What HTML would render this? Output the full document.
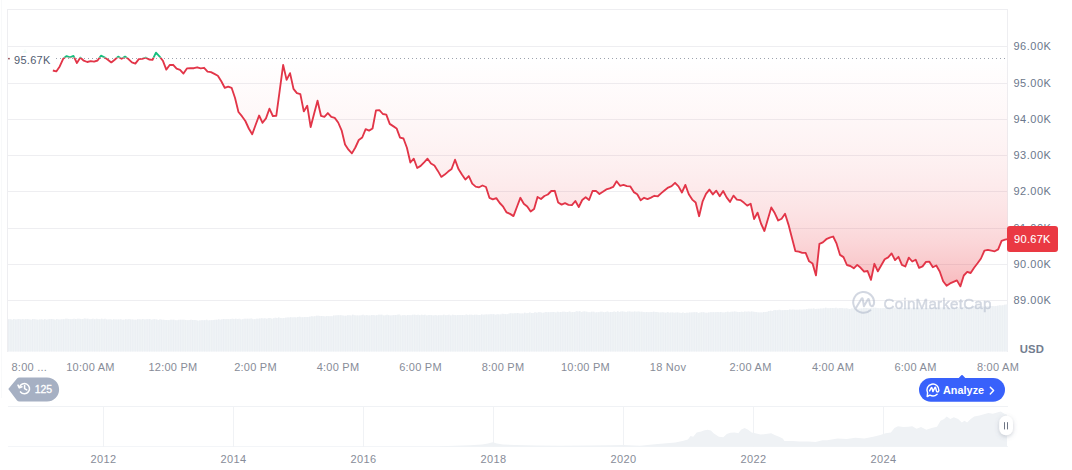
<!DOCTYPE html>
<html><head><meta charset="utf-8"><title>Chart</title>
<style>
html,body{margin:0;padding:0;background:#fff;}
body{width:1072px;height:470px;position:relative;overflow:hidden;font-family:"Liberation Sans",sans-serif;}
svg{position:absolute;left:0;top:0;}
.yl{position:absolute;left:1013.5px;width:60px;height:15px;line-height:15px;font-size:11px;letter-spacing:0.5px;color:#6b778c;}
.tl{position:absolute;top:360.1px;width:80px;height:15px;line-height:15px;text-align:center;font-size:11px;letter-spacing:0.25px;color:#878c98;white-space:nowrap;}
.yr{position:absolute;top:451.5px;width:60px;height:15px;line-height:15px;text-align:center;font-size:11px;letter-spacing:0.35px;color:#878c98;}
.open{position:absolute;left:11px;top:53.3px;width:41px;height:15px;line-height:15px;background:#fff;font-size:11px;letter-spacing:0.3px;color:#515c70;padding-left:3px;}
.cur{position:absolute;left:1007px;top:226.3px;width:50.8px;height:25.4px;line-height:27.8px;border-radius:3px;background:#EA3943;color:#fff;font-size:11px;letter-spacing:0.3px;text-align:center;font-weight:normal;-webkit-text-stroke:0.1px #fff;}
.usd{position:absolute;left:1019.8px;top:342.5px;height:12px;line-height:12px;font-size:11.3px;font-weight:bold;letter-spacing:0.15px;color:#737d8f;}
.b125{position:absolute;left:34.7px;top:382px;height:15px;line-height:15px;font-size:10.5px;font-weight:normal;-webkit-text-stroke:0.3px #fff;color:#fff;letter-spacing:0px;}
.an{position:absolute;left:943px;top:382.8px;height:15px;line-height:15px;font-size:10.8px;font-weight:bold;color:#fff;letter-spacing:0.05px;}
.wm{position:absolute;left:883.5px;top:293.5px;height:20px;line-height:20px;font-size:15.2px;font-weight:normal;-webkit-text-stroke:0.45px #a6b0c3;color:#a6b0c3;opacity:0.5;letter-spacing:0.2px;}
</style></head><body>
<svg width="1072" height="470" viewBox="0 0 1072 470">
<defs>
<linearGradient id="rg" x1="0" y1="58.4" x2="0" y2="290" gradientUnits="userSpaceOnUse">
<stop offset="0.00" stop-color="#EA3943" stop-opacity="0.0000"/><stop offset="0.05" stop-color="#EA3943" stop-opacity="0.0075"/><stop offset="0.10" stop-color="#EA3943" stop-opacity="0.0150"/><stop offset="0.15" stop-color="#EA3943" stop-opacity="0.0226"/><stop offset="0.20" stop-color="#EA3943" stop-opacity="0.0304"/><stop offset="0.25" stop-color="#EA3943" stop-opacity="0.0384"/><stop offset="0.30" stop-color="#EA3943" stop-opacity="0.0468"/><stop offset="0.35" stop-color="#EA3943" stop-opacity="0.0558"/><stop offset="0.40" stop-color="#EA3943" stop-opacity="0.0656"/><stop offset="0.45" stop-color="#EA3943" stop-opacity="0.0765"/><stop offset="0.50" stop-color="#EA3943" stop-opacity="0.0887"/><stop offset="0.55" stop-color="#EA3943" stop-opacity="0.1026"/><stop offset="0.60" stop-color="#EA3943" stop-opacity="0.1185"/><stop offset="0.65" stop-color="#EA3943" stop-opacity="0.1368"/><stop offset="0.70" stop-color="#EA3943" stop-opacity="0.1578"/><stop offset="0.75" stop-color="#EA3943" stop-opacity="0.1821"/><stop offset="0.80" stop-color="#EA3943" stop-opacity="0.2101"/><stop offset="0.85" stop-color="#EA3943" stop-opacity="0.2423"/><stop offset="0.90" stop-color="#EA3943" stop-opacity="0.2793"/><stop offset="0.95" stop-color="#EA3943" stop-opacity="0.3217"/><stop offset="1.00" stop-color="#EA3943" stop-opacity="0.3700"/>
</linearGradient>
<linearGradient id="gg" x1="0" y1="58.4" x2="0" y2="40" gradientUnits="userSpaceOnUse">
<stop offset="0" stop-color="#16C784" stop-opacity="0"/>
<stop offset="1" stop-color="#16C784" stop-opacity="0.25"/>
</linearGradient>
<clipPath id="below"><rect x="0" y="58.4" width="1072" height="300"/></clipPath>
<clipPath id="above"><rect x="0" y="0" width="1072" height="58.4"/></clipPath>
<clipPath id="lbelow"><rect x="0" y="57.5" width="1072" height="300"/></clipPath>
<clipPath id="labove"><rect x="0" y="0" width="1072" height="57.5"/></clipPath>
<pattern id="vstripe" x="8" y="0" width="1.72" height="10" patternUnits="userSpaceOnUse"><rect x="0" y="0" width="1.0" height="10" fill="#ebeff3"/></pattern>
<filter id="sh" x="-50%" y="-50%" width="200%" height="200%"><feDropShadow dx="0" dy="1.5" stdDeviation="2.2" flood-color="#58667e" flood-opacity="0.3"/></filter>
</defs>
<!-- frame + grid -->
<line x1="1.5" x2="1.5" y1="0" y2="398" stroke="#f8f9fa" stroke-width="1" shape-rendering="crispEdges"/>
<g stroke="#eeeef1" stroke-width="1" shape-rendering="crispEdges">
<line x1="8" x2="1007.5" y1="9.5" y2="9.5"/>
<line x1="7.5" x2="7.5" y1="9" y2="352"/>
<line x1="1007.5" x2="1007.5" y1="9" y2="352"/>
<line x1="8" x2="1007.5" y1="46.5" y2="46.5"/><line x1="8" x2="1007.5" y1="83.5" y2="83.5"/><line x1="8" x2="1007.5" y1="119.5" y2="119.5"/><line x1="8" x2="1007.5" y1="155.5" y2="155.5"/><line x1="8" x2="1007.5" y1="191.5" y2="191.5"/><line x1="8" x2="1007.5" y1="228.5" y2="228.5"/><line x1="8" x2="1007.5" y1="264.5" y2="264.5"/><line x1="8" x2="1007.5" y1="300.5" y2="300.5"/>
<line x1="8" x2="1007.5" y1="406.5" y2="406.5" stroke="#f0f2f5"/>
<line x1="8" x2="1007.5" y1="446.5" y2="446.5" stroke="#f3f5f8"/>
<line x1="103.5" x2="103.5" y1="406.5" y2="446.5" stroke="#f0f2f5"/><line x1="233.5" x2="233.5" y1="406.5" y2="446.5" stroke="#f0f2f5"/><line x1="363.5" x2="363.5" y1="406.5" y2="446.5" stroke="#f0f2f5"/><line x1="493.5" x2="493.5" y1="406.5" y2="446.5" stroke="#f0f2f5"/><line x1="623.5" x2="623.5" y1="406.5" y2="446.5" stroke="#f0f2f5"/><line x1="753.5" x2="753.5" y1="406.5" y2="446.5" stroke="#f0f2f5"/><line x1="883.5" x2="883.5" y1="406.5" y2="446.5" stroke="#f0f2f5"/>
</g>
<!-- volume -->
<path d="M8.0,319.34 L9.72,319.34 L9.72,319.18 L11.44,319.18 L11.44,319.63 L13.16,319.63 L13.16,319.1 L14.88,319.1 L14.88,319.52 L16.6,319.52 L16.6,319.36 L18.32,319.36 L18.32,319.08 L20.04,319.08 L20.04,319.48 L21.76,319.48 L21.76,319.06 L23.48,319.06 L23.48,319.41 L25.2,319.41 L25.2,319.08 L26.92,319.08 L26.92,319.09 L28.64,319.09 L28.64,319.39 L30.36,319.39 L30.36,319.75 L32.08,319.75 L32.08,319.11 L33.8,319.11 L33.8,319.2 L35.52,319.2 L35.52,319.56 L37.24,319.56 L37.24,319.85 L38.96,319.85 L38.96,319.51 L40.68,319.51 L40.68,319.34 L42.4,319.34 L42.4,319.86 L44.12,319.86 L44.12,319.02 L45.84,319.02 L45.84,319.75 L47.56,319.75 L47.56,319.23 L49.28,319.23 L49.28,319.1 L51.0,319.1 L51.0,319.07 L52.72,319.07 L52.72,319.24 L54.44,319.24 L54.44,319.69 L56.16,319.69 L56.16,319.12 L57.88,319.12 L57.88,319.48 L59.6,319.48 L59.6,319.51 L61.32,319.51 L61.32,319.22 L63.04,319.22 L63.04,319.33 L64.76,319.33 L64.76,318.85 L66.48,318.85 L66.48,318.8 L68.2,318.8 L68.2,318.88 L69.92,318.88 L69.92,319.26 L71.64,319.26 L71.64,318.98 L73.36,318.98 L73.36,318.83 L75.08,318.83 L75.08,319.03 L76.8,319.03 L76.8,318.86 L78.52,318.86 L78.52,318.68 L80.24,318.68 L80.24,319.07 L81.96,319.07 L81.96,318.94 L83.68,318.94 L83.68,318.48 L85.4,318.48 L85.4,318.8 L87.12,318.8 L87.12,318.79 L88.84,318.79 L88.84,319.15 L90.56,319.15 L90.56,319.06 L92.28,319.06 L92.28,318.7 L94.0,318.7 L94.0,319.37 L95.72,319.37 L95.72,318.63 L97.44,318.63 L97.44,318.95 L99.16,318.95 L99.16,319.29 L100.88,319.29 L100.88,318.79 L102.6,318.79 L102.6,319.13 L104.32,319.13 L104.32,318.77 L106.04,318.77 L106.04,319.38 L107.76,319.38 L107.76,319.5 L109.48,319.5 L109.48,319.37 L111.2,319.37 L111.2,319.65 L112.92,319.65 L112.92,319.15 L114.64,319.15 L114.64,319.5 L116.36,319.5 L116.36,319.42 L118.08,319.42 L118.08,319.42 L119.8,319.42 L119.8,319.31 L121.52,319.31 L121.52,319.67 L123.24,319.67 L123.24,319.77 L124.96,319.77 L124.96,319.36 L126.68,319.36 L126.68,319.54 L128.4,319.54 L128.4,319.0 L130.12,319.0 L130.12,319.59 L131.84,319.59 L131.84,319.55 L133.56,319.55 L133.56,319.87 L135.28,319.87 L135.28,319.72 L137.0,319.72 L137.0,319.25 L138.72,319.25 L138.72,319.35 L140.44,319.35 L140.44,319.61 L142.16,319.61 L142.16,319.04 L143.88,319.04 L143.88,319.44 L145.6,319.44 L145.6,319.18 L147.32,319.18 L147.32,319.15 L149.04,319.15 L149.04,319.1 L150.76,319.1 L150.76,319.77 L152.48,319.77 L152.48,319.22 L154.2,319.22 L154.2,319.35 L155.92,319.35 L155.92,319.51 L157.64,319.51 L157.64,319.97 L159.36,319.97 L159.36,319.29 L161.08,319.29 L161.08,319.65 L162.8,319.65 L162.8,319.76 L164.52,319.76 L164.52,320.09 L166.24,320.09 L166.24,320.06 L167.96,320.06 L167.96,320.13 L169.68,320.13 L169.68,319.63 L171.4,319.63 L171.4,319.78 L173.12,319.78 L173.12,319.76 L174.84,319.76 L174.84,320.26 L176.56,320.26 L176.56,320.35 L178.28,320.35 L178.28,319.65 L180.0,319.65 L180.0,319.7 L181.72,319.7 L181.72,319.78 L183.44,319.78 L183.44,319.81 L185.16,319.81 L185.16,320.06 L186.88,320.06 L186.88,320.18 L188.6,320.18 L188.6,319.92 L190.32,319.92 L190.32,319.71 L192.04,319.71 L192.04,320.11 L193.76,320.11 L193.76,320.1 L195.48,320.1 L195.48,320.3 L197.2,320.3 L197.2,320.68 L198.92,320.68 L198.92,320.47 L200.64,320.47 L200.64,320.26 L202.36,320.26 L202.36,320.3 L204.08,320.3 L204.08,320.29 L205.8,320.29 L205.8,319.68 L207.52,319.68 L207.52,320.38 L209.24,320.38 L209.24,320.22 L210.96,320.22 L210.96,320.24 L212.68,320.24 L212.68,320.12 L214.4,320.12 L214.4,319.69 L216.12,319.69 L216.12,319.64 L217.84,319.64 L217.84,319.32 L219.56,319.32 L219.56,319.74 L221.28,319.74 L221.28,319.17 L223.0,319.17 L223.0,319.12 L224.72,319.12 L224.72,319.19 L226.44,319.19 L226.44,319.09 L228.16,319.09 L228.16,319.19 L229.88,319.19 L229.88,318.88 L231.6,318.88 L231.6,318.81 L233.32,318.81 L233.32,318.92 L235.04,318.92 L235.04,318.84 L236.76,318.84 L236.76,319.05 L238.48,319.05 L238.48,318.72 L240.2,318.72 L240.2,319.45 L241.92,319.45 L241.92,319.19 L243.64,319.19 L243.64,318.74 L245.36,318.74 L245.36,318.81 L247.08,318.81 L247.08,318.86 L248.8,318.86 L248.8,318.85 L250.52,318.85 L250.52,318.6 L252.24,318.6 L252.24,319.23 L253.96,319.23 L253.96,319.33 L255.68,319.33 L255.68,318.83 L257.4,318.83 L257.4,318.81 L259.12,318.81 L259.12,318.43 L260.84,318.43 L260.84,318.37 L262.56,318.37 L262.56,318.51 L264.28,318.51 L264.28,318.37 L266.0,318.37 L266.0,318.8 L267.72,318.8 L267.72,318.12 L269.44,318.12 L269.44,317.92 L271.16,317.92 L271.16,318.69 L272.88,318.69 L272.88,318.23 L274.6,318.23 L274.6,317.81 L276.32,317.81 L276.32,318.09 L278.04,318.09 L278.04,317.56 L279.76,317.56 L279.76,317.93 L281.48,317.93 L281.48,318.26 L283.2,318.26 L283.2,318.08 L284.92,318.08 L284.92,317.86 L286.64,317.86 L286.64,317.39 L288.36,317.39 L288.36,317.41 L290.08,317.41 L290.08,317.15 L291.8,317.15 L291.8,317.61 L293.52,317.61 L293.52,317.31 L295.24,317.31 L295.24,317.45 L296.96,317.45 L296.96,316.96 L298.68,316.96 L298.68,316.77 L300.4,316.77 L300.4,317.22 L302.12,317.22 L302.12,317.29 L303.84,317.29 L303.84,317.08 L305.56,317.08 L305.56,316.95 L307.28,316.95 L307.28,316.88 L309.0,316.88 L309.0,316.72 L310.72,316.72 L310.72,316.2 L312.44,316.2 L312.44,316.41 L314.16,316.41 L314.16,316.21 L315.88,316.21 L315.88,315.86 L317.6,315.86 L317.6,315.8 L319.32,315.8 L319.32,315.97 L321.04,315.97 L321.04,315.9 L322.76,315.9 L322.76,316.23 L324.48,316.23 L324.48,316.41 L326.2,316.41 L326.2,315.9 L327.92,315.9 L327.92,316.28 L329.64,316.28 L329.64,316.27 L331.36,316.27 L331.36,316.19 L333.08,316.19 L333.08,315.6 L334.8,315.6 L334.8,315.41 L336.52,315.41 L336.52,315.36 L338.24,315.36 L338.24,315.28 L339.96,315.28 L339.96,315.23 L341.68,315.23 L341.68,315.55 L343.4,315.55 L343.4,315.75 L345.12,315.75 L345.12,315.64 L346.84,315.64 L346.84,315.26 L348.56,315.26 L348.56,315.36 L350.28,315.36 L350.28,315.47 L352.0,315.47 L352.0,314.81 L353.72,314.81 L353.72,315.33 L355.44,315.33 L355.44,315.54 L357.16,315.54 L357.16,315.42 L358.88,315.42 L358.88,315.39 L360.6,315.39 L360.6,315.13 L362.32,315.13 L362.32,314.86 L364.04,314.86 L364.04,315.4 L365.76,315.4 L365.76,314.98 L367.48,314.98 L367.48,315.4 L369.2,315.4 L369.2,315.54 L370.92,315.54 L370.92,315.02 L372.64,315.02 L372.64,315.02 L374.36,315.02 L374.36,315.5 L376.08,315.5 L376.08,315.29 L377.8,315.29 L377.8,314.79 L379.52,314.79 L379.52,314.74 L381.24,314.74 L381.24,314.76 L382.96,314.76 L382.96,315.43 L384.68,315.43 L384.68,315.33 L386.4,315.33 L386.4,314.73 L388.12,314.73 L388.12,315.34 L389.84,315.34 L389.84,315.47 L391.56,315.47 L391.56,315.17 L393.28,315.17 L393.28,314.89 L395.0,314.89 L395.0,315.06 L396.72,315.06 L396.72,314.68 L398.44,314.68 L398.44,314.57 L400.16,314.57 L400.16,315.43 L401.88,315.43 L401.88,315.15 L403.6,315.15 L403.6,315.04 L405.32,315.04 L405.32,315.41 L407.04,315.41 L407.04,314.97 L408.76,314.97 L408.76,315.37 L410.48,315.37 L410.48,315.34 L412.2,315.34 L412.2,314.79 L413.92,314.79 L413.92,314.84 L415.64,314.84 L415.64,314.88 L417.36,314.88 L417.36,314.84 L419.08,314.84 L419.08,315.16 L420.8,315.16 L420.8,314.87 L422.52,314.87 L422.52,315.02 L424.24,315.02 L424.24,314.77 L425.96,314.77 L425.96,315.48 L427.68,315.48 L427.68,314.98 L429.4,314.98 L429.4,315.08 L431.12,315.08 L431.12,315.2 L432.84,315.2 L432.84,315.5 L434.56,315.5 L434.56,315.07 L436.28,315.07 L436.28,315.52 L438.0,315.52 L438.0,315.16 L439.72,315.16 L439.72,315.19 L441.44,315.19 L441.44,315.19 L443.16,315.19 L443.16,314.74 L444.88,314.74 L444.88,315.13 L446.6,315.13 L446.6,314.9 L448.32,314.9 L448.32,314.75 L450.04,314.75 L450.04,315.45 L451.76,315.45 L451.76,314.86 L453.48,314.86 L453.48,315.1 L455.2,315.1 L455.2,315.3 L456.92,315.3 L456.92,315.12 L458.64,315.12 L458.64,314.89 L460.36,314.89 L460.36,315.03 L462.08,315.03 L462.08,315.03 L463.8,315.03 L463.8,315.21 L465.52,315.21 L465.52,314.57 L467.24,314.57 L467.24,314.95 L468.96,314.95 L468.96,314.64 L470.68,314.64 L470.68,314.64 L472.4,314.64 L472.4,315.06 L474.12,315.06 L474.12,314.79 L475.84,314.79 L475.84,314.81 L477.56,314.81 L477.56,314.96 L479.28,314.96 L479.28,315.07 L481.0,315.07 L481.0,314.59 L482.72,314.59 L482.72,314.69 L484.44,314.69 L484.44,314.55 L486.16,314.55 L486.16,314.5 L487.88,314.5 L487.88,314.61 L489.6,314.61 L489.6,314.34 L491.32,314.34 L491.32,314.36 L493.04,314.36 L493.04,314.26 L494.76,314.26 L494.76,314.63 L496.48,314.63 L496.48,314.36 L498.2,314.36 L498.2,314.47 L499.92,314.47 L499.92,314.47 L501.64,314.47 L501.64,313.8 L503.36,313.8 L503.36,314.01 L505.08,314.01 L505.08,314.29 L506.8,314.29 L506.8,314.14 L508.52,314.14 L508.52,313.45 L510.24,313.45 L510.24,313.37 L511.96,313.37 L511.96,313.6 L513.68,313.6 L513.68,313.21 L515.4,313.21 L515.4,313.3 L517.12,313.3 L517.12,313.09 L518.84,313.09 L518.84,313.56 L520.56,313.56 L520.56,313.56 L522.28,313.56 L522.28,313.55 L524.0,313.55 L524.0,312.77 L525.72,312.77 L525.72,313.16 L527.44,313.16 L527.44,312.99 L529.16,312.99 L529.16,312.41 L530.88,312.41 L530.88,312.96 L532.6,312.96 L532.6,312.92 L534.32,312.92 L534.32,312.15 L536.04,312.15 L536.04,312.79 L537.76,312.79 L537.76,312.28 L539.48,312.28 L539.48,312.35 L541.2,312.35 L541.2,312.78 L542.92,312.78 L542.92,312.63 L544.64,312.63 L544.64,312.01 L546.36,312.01 L546.36,312.24 L548.08,312.24 L548.08,312.3 L549.8,312.3 L549.8,312.13 L551.52,312.13 L551.52,311.99 L553.24,311.99 L553.24,312.08 L554.96,312.08 L554.96,312.43 L556.68,312.43 L556.68,311.79 L558.4,311.79 L558.4,312.25 L560.12,312.25 L560.12,312.11 L561.84,312.11 L561.84,311.66 L563.56,311.66 L563.56,311.87 L565.28,311.87 L565.28,312.07 L567.0,312.07 L567.0,311.9 L568.72,311.9 L568.72,311.42 L570.44,311.42 L570.44,312.18 L572.16,312.18 L572.16,311.94 L573.88,311.94 L573.88,312.03 L575.6,312.03 L575.6,311.28 L577.32,311.28 L577.32,311.47 L579.04,311.47 L579.04,311.3 L580.76,311.3 L580.76,312.01 L582.48,312.01 L582.48,311.59 L584.2,311.59 L584.2,311.51 L585.92,311.51 L585.92,311.81 L587.64,311.81 L587.64,312.29 L589.36,312.29 L589.36,312.25 L591.08,312.25 L591.08,311.79 L592.8,311.79 L592.8,311.73 L594.52,311.73 L594.52,312.47 L596.24,312.47 L596.24,312.19 L597.96,312.19 L597.96,312.35 L599.68,312.35 L599.68,311.81 L601.4,311.81 L601.4,311.73 L603.12,311.73 L603.12,312.25 L604.84,312.25 L604.84,311.96 L606.56,311.96 L606.56,311.59 L608.28,311.59 L608.28,312.32 L610.0,312.32 L610.0,312.0 L611.72,312.0 L611.72,312.09 L613.44,312.09 L613.44,311.4 L615.16,311.4 L615.16,312.04 L616.88,312.04 L616.88,311.28 L618.6,311.28 L618.6,311.94 L620.32,311.94 L620.32,311.58 L622.04,311.58 L622.04,311.51 L623.76,311.51 L623.76,311.74 L625.48,311.74 L625.48,312.11 L627.2,312.11 L627.2,311.55 L628.92,311.55 L628.92,311.46 L630.64,311.46 L630.64,311.85 L632.36,311.85 L632.36,311.63 L634.08,311.63 L634.08,311.55 L635.8,311.55 L635.8,311.63 L637.52,311.63 L637.52,311.56 L639.24,311.56 L639.24,311.73 L640.96,311.73 L640.96,311.87 L642.68,311.87 L642.68,311.9 L644.4,311.9 L644.4,312.34 L646.12,312.34 L646.12,311.95 L647.84,311.95 L647.84,312.17 L649.56,312.17 L649.56,311.92 L651.28,311.92 L651.28,312.11 L653.0,312.11 L653.0,311.84 L654.72,311.84 L654.72,312.09 L656.44,312.09 L656.44,311.91 L658.16,311.91 L658.16,312.59 L659.88,312.59 L659.88,312.45 L661.6,312.45 L661.6,312.14 L663.32,312.14 L663.32,312.41 L665.04,312.41 L665.04,312.84 L666.76,312.84 L666.76,312.1 L668.48,312.1 L668.48,312.76 L670.2,312.76 L670.2,312.42 L671.92,312.42 L671.92,312.49 L673.64,312.49 L673.64,312.81 L675.36,312.81 L675.36,312.43 L677.08,312.43 L677.08,312.54 L678.8,312.54 L678.8,312.72 L680.52,312.72 L680.52,312.99 L682.24,312.99 L682.24,312.43 L683.96,312.43 L683.96,312.89 L685.68,312.89 L685.68,312.79 L687.4,312.79 L687.4,312.73 L689.12,312.73 L689.12,312.54 L690.84,312.54 L690.84,312.5 L692.56,312.5 L692.56,312.25 L694.28,312.25 L694.28,312.33 L696.0,312.33 L696.0,312.29 L697.72,312.29 L697.72,312.91 L699.44,312.91 L699.44,312.47 L701.16,312.47 L701.16,312.34 L702.88,312.34 L702.88,312.23 L704.6,312.23 L704.6,312.86 L706.32,312.86 L706.32,312.84 L708.04,312.84 L708.04,312.62 L709.76,312.62 L709.76,312.22 L711.48,312.22 L711.48,312.14 L713.2,312.14 L713.2,312.14 L714.92,312.14 L714.92,312.24 L716.64,312.24 L716.64,311.93 L718.36,311.93 L718.36,312.14 L720.08,312.14 L720.08,311.93 L721.8,311.93 L721.8,312.51 L723.52,312.51 L723.52,312.48 L725.24,312.48 L725.24,312.05 L726.96,312.05 L726.96,311.73 L728.68,311.73 L728.68,312.33 L730.4,312.33 L730.4,311.73 L732.12,311.73 L732.12,311.77 L733.84,311.77 L733.84,311.45 L735.56,311.45 L735.56,311.79 L737.28,311.79 L737.28,311.88 L739.0,311.88 L739.0,311.9 L740.72,311.9 L740.72,311.63 L742.44,311.63 L742.44,311.9 L744.16,311.9 L744.16,311.45 L745.88,311.45 L745.88,311.69 L747.6,311.69 L747.6,311.53 L749.32,311.53 L749.32,311.82 L751.04,311.82 L751.04,311.62 L752.76,311.62 L752.76,311.72 L754.48,311.72 L754.48,312.1 L756.2,312.1 L756.2,312.15 L757.92,312.15 L757.92,312.59 L759.64,312.59 L759.64,312.55 L761.36,312.55 L761.36,312.47 L763.08,312.47 L763.08,312.11 L764.8,312.11 L764.8,311.89 L766.52,311.89 L766.52,311.76 L768.24,311.76 L768.24,311.04 L769.96,311.04 L769.96,310.71 L771.68,310.71 L771.68,311.03 L773.4,311.03 L773.4,310.0 L775.12,310.0 L775.12,310.37 L776.84,310.37 L776.84,310.24 L778.56,310.24 L778.56,309.65 L780.28,309.65 L780.28,310.31 L782.0,310.31 L782.0,310.3 L783.72,310.3 L783.72,310.01 L785.44,310.01 L785.44,310.05 L787.16,310.05 L787.16,310.06 L788.88,310.06 L788.88,309.4 L790.6,309.4 L790.6,309.69 L792.32,309.69 L792.32,309.62 L794.04,309.62 L794.04,309.86 L795.76,309.86 L795.76,309.78 L797.48,309.78 L797.48,309.75 L799.2,309.75 L799.2,309.47 L800.92,309.47 L800.92,309.7 L802.64,309.7 L802.64,309.46 L804.36,309.46 L804.36,309.42 L806.08,309.42 L806.08,308.95 L807.8,308.95 L807.8,308.72 L809.52,308.72 L809.52,308.75 L811.24,308.75 L811.24,308.85 L812.96,308.85 L812.96,308.52 L814.68,308.52 L814.68,309.07 L816.4,309.07 L816.4,308.72 L818.12,308.72 L818.12,308.68 L819.84,308.68 L819.84,308.57 L821.56,308.57 L821.56,308.52 L823.28,308.52 L823.28,308.24 L825.0,308.24 L825.0,307.7 L826.72,307.7 L826.72,308.31 L828.44,308.31 L828.44,308.17 L830.16,308.17 L830.16,307.94 L831.88,307.94 L831.88,308.03 L833.6,308.03 L833.6,308.2 L835.32,308.2 L835.32,307.73 L837.04,307.73 L837.04,308.39 L838.76,308.39 L838.76,308.01 L840.48,308.01 L840.48,307.91 L842.2,307.91 L842.2,308.15 L843.92,308.15 L843.92,308.62 L845.64,308.62 L845.64,308.21 L847.36,308.21 L847.36,308.75 L849.08,308.75 L849.08,309.03 L850.8,309.03 L850.8,308.57 L852.52,308.57 L852.52,308.44 L854.24,308.44 L854.24,308.5 L855.96,308.5 L855.96,308.65 L857.68,308.65 L857.68,308.7 L859.4,308.7 L859.4,308.53 L861.12,308.53 L861.12,308.53 L862.84,308.53 L862.84,307.99 L864.56,307.99 L864.56,308.03 L866.28,308.03 L866.28,308.09 L868.0,308.09 L868.0,308.5 L869.72,308.5 L869.72,308.08 L871.44,308.08 L871.44,308.29 L873.16,308.29 L873.16,307.76 L874.88,307.76 L874.88,307.78 L876.6,307.78 L876.6,307.93 L878.32,307.93 L878.32,308.27 L880.04,308.27 L880.04,308.27 L881.76,308.27 L881.76,308.24 L883.48,308.24 L883.48,307.88 L885.2,307.88 L885.2,308.07 L886.92,308.07 L886.92,308.01 L888.64,308.01 L888.64,308.0 L890.36,308.0 L890.36,307.68 L892.08,307.68 L892.08,308.36 L893.8,308.36 L893.8,307.72 L895.52,307.72 L895.52,308.41 L897.24,308.41 L897.24,308.36 L898.96,308.36 L898.96,307.52 L900.68,307.52 L900.68,307.91 L902.4,307.91 L902.4,308.22 L904.12,308.22 L904.12,308.34 L905.84,308.34 L905.84,307.86 L907.56,307.86 L907.56,307.69 L909.28,307.69 L909.28,307.62 L911.0,307.62 L911.0,308.27 L912.72,308.27 L912.72,307.6 L914.44,307.6 L914.44,307.92 L916.16,307.92 L916.16,307.51 L917.88,307.51 L917.88,307.84 L919.6,307.84 L919.6,308.22 L921.32,308.22 L921.32,307.47 L923.04,307.47 L923.04,308.07 L924.76,308.07 L924.76,307.78 L926.48,307.78 L926.48,308.11 L928.2,308.11 L928.2,307.93 L929.92,307.93 L929.92,307.5 L931.64,307.5 L931.64,308.08 L933.36,308.08 L933.36,307.7 L935.08,307.7 L935.08,307.27 L936.8,307.27 L936.8,307.24 L938.52,307.24 L938.52,307.67 L940.24,307.67 L940.24,307.62 L941.96,307.62 L941.96,307.47 L943.68,307.47 L943.68,307.32 L945.4,307.32 L945.4,307.49 L947.12,307.49 L947.12,307.45 L948.84,307.45 L948.84,307.91 L950.56,307.91 L950.56,307.11 L952.28,307.11 L952.28,307.72 L954.0,307.72 L954.0,307.75 L955.72,307.75 L955.72,307.04 L957.44,307.04 L957.44,307.71 L959.16,307.71 L959.16,307.47 L960.88,307.47 L960.88,307.58 L962.6,307.58 L962.6,306.97 L964.32,306.97 L964.32,306.99 L966.04,306.99 L966.04,306.95 L967.76,306.95 L967.76,307.44 L969.48,307.44 L969.48,307.02 L971.2,307.02 L971.2,306.76 L972.92,306.76 L972.92,306.76 L974.64,306.76 L974.64,306.57 L976.36,306.57 L976.36,306.31 L978.08,306.31 L978.08,306.3 L979.8,306.3 L979.8,306.9 L981.52,306.9 L981.52,306.35 L983.24,306.35 L983.24,306.88 L984.96,306.88 L984.96,306.21 L986.68,306.21 L986.68,306.17 L988.4,306.17 L988.4,306.33 L990.12,306.33 L990.12,305.91 L991.84,305.91 L991.84,305.89 L993.56,305.89 L993.56,306.22 L995.28,306.22 L995.28,305.97 L997.0,305.97 L997.0,305.72 L998.72,305.72 L998.72,305.36 L1000.44,305.36 L1000.44,305.42 L1002.16,305.42 L1002.16,305.23 L1003.88,305.23 L1003.88,304.68 L1005.6,304.68 L1005.6,304.62 L1007.32,304.62 L1007.32,303.91 L1007.5,303.91 L1007.5,351.5 L8,351.5 Z" fill="#f1f4f7"/><path d="M8.0,319.34 L9.72,319.34 L9.72,319.18 L11.44,319.18 L11.44,319.63 L13.16,319.63 L13.16,319.1 L14.88,319.1 L14.88,319.52 L16.6,319.52 L16.6,319.36 L18.32,319.36 L18.32,319.08 L20.04,319.08 L20.04,319.48 L21.76,319.48 L21.76,319.06 L23.48,319.06 L23.48,319.41 L25.2,319.41 L25.2,319.08 L26.92,319.08 L26.92,319.09 L28.64,319.09 L28.64,319.39 L30.36,319.39 L30.36,319.75 L32.08,319.75 L32.08,319.11 L33.8,319.11 L33.8,319.2 L35.52,319.2 L35.52,319.56 L37.24,319.56 L37.24,319.85 L38.96,319.85 L38.96,319.51 L40.68,319.51 L40.68,319.34 L42.4,319.34 L42.4,319.86 L44.12,319.86 L44.12,319.02 L45.84,319.02 L45.84,319.75 L47.56,319.75 L47.56,319.23 L49.28,319.23 L49.28,319.1 L51.0,319.1 L51.0,319.07 L52.72,319.07 L52.72,319.24 L54.44,319.24 L54.44,319.69 L56.16,319.69 L56.16,319.12 L57.88,319.12 L57.88,319.48 L59.6,319.48 L59.6,319.51 L61.32,319.51 L61.32,319.22 L63.04,319.22 L63.04,319.33 L64.76,319.33 L64.76,318.85 L66.48,318.85 L66.48,318.8 L68.2,318.8 L68.2,318.88 L69.92,318.88 L69.92,319.26 L71.64,319.26 L71.64,318.98 L73.36,318.98 L73.36,318.83 L75.08,318.83 L75.08,319.03 L76.8,319.03 L76.8,318.86 L78.52,318.86 L78.52,318.68 L80.24,318.68 L80.24,319.07 L81.96,319.07 L81.96,318.94 L83.68,318.94 L83.68,318.48 L85.4,318.48 L85.4,318.8 L87.12,318.8 L87.12,318.79 L88.84,318.79 L88.84,319.15 L90.56,319.15 L90.56,319.06 L92.28,319.06 L92.28,318.7 L94.0,318.7 L94.0,319.37 L95.72,319.37 L95.72,318.63 L97.44,318.63 L97.44,318.95 L99.16,318.95 L99.16,319.29 L100.88,319.29 L100.88,318.79 L102.6,318.79 L102.6,319.13 L104.32,319.13 L104.32,318.77 L106.04,318.77 L106.04,319.38 L107.76,319.38 L107.76,319.5 L109.48,319.5 L109.48,319.37 L111.2,319.37 L111.2,319.65 L112.92,319.65 L112.92,319.15 L114.64,319.15 L114.64,319.5 L116.36,319.5 L116.36,319.42 L118.08,319.42 L118.08,319.42 L119.8,319.42 L119.8,319.31 L121.52,319.31 L121.52,319.67 L123.24,319.67 L123.24,319.77 L124.96,319.77 L124.96,319.36 L126.68,319.36 L126.68,319.54 L128.4,319.54 L128.4,319.0 L130.12,319.0 L130.12,319.59 L131.84,319.59 L131.84,319.55 L133.56,319.55 L133.56,319.87 L135.28,319.87 L135.28,319.72 L137.0,319.72 L137.0,319.25 L138.72,319.25 L138.72,319.35 L140.44,319.35 L140.44,319.61 L142.16,319.61 L142.16,319.04 L143.88,319.04 L143.88,319.44 L145.6,319.44 L145.6,319.18 L147.32,319.18 L147.32,319.15 L149.04,319.15 L149.04,319.1 L150.76,319.1 L150.76,319.77 L152.48,319.77 L152.48,319.22 L154.2,319.22 L154.2,319.35 L155.92,319.35 L155.92,319.51 L157.64,319.51 L157.64,319.97 L159.36,319.97 L159.36,319.29 L161.08,319.29 L161.08,319.65 L162.8,319.65 L162.8,319.76 L164.52,319.76 L164.52,320.09 L166.24,320.09 L166.24,320.06 L167.96,320.06 L167.96,320.13 L169.68,320.13 L169.68,319.63 L171.4,319.63 L171.4,319.78 L173.12,319.78 L173.12,319.76 L174.84,319.76 L174.84,320.26 L176.56,320.26 L176.56,320.35 L178.28,320.35 L178.28,319.65 L180.0,319.65 L180.0,319.7 L181.72,319.7 L181.72,319.78 L183.44,319.78 L183.44,319.81 L185.16,319.81 L185.16,320.06 L186.88,320.06 L186.88,320.18 L188.6,320.18 L188.6,319.92 L190.32,319.92 L190.32,319.71 L192.04,319.71 L192.04,320.11 L193.76,320.11 L193.76,320.1 L195.48,320.1 L195.48,320.3 L197.2,320.3 L197.2,320.68 L198.92,320.68 L198.92,320.47 L200.64,320.47 L200.64,320.26 L202.36,320.26 L202.36,320.3 L204.08,320.3 L204.08,320.29 L205.8,320.29 L205.8,319.68 L207.52,319.68 L207.52,320.38 L209.24,320.38 L209.24,320.22 L210.96,320.22 L210.96,320.24 L212.68,320.24 L212.68,320.12 L214.4,320.12 L214.4,319.69 L216.12,319.69 L216.12,319.64 L217.84,319.64 L217.84,319.32 L219.56,319.32 L219.56,319.74 L221.28,319.74 L221.28,319.17 L223.0,319.17 L223.0,319.12 L224.72,319.12 L224.72,319.19 L226.44,319.19 L226.44,319.09 L228.16,319.09 L228.16,319.19 L229.88,319.19 L229.88,318.88 L231.6,318.88 L231.6,318.81 L233.32,318.81 L233.32,318.92 L235.04,318.92 L235.04,318.84 L236.76,318.84 L236.76,319.05 L238.48,319.05 L238.48,318.72 L240.2,318.72 L240.2,319.45 L241.92,319.45 L241.92,319.19 L243.64,319.19 L243.64,318.74 L245.36,318.74 L245.36,318.81 L247.08,318.81 L247.08,318.86 L248.8,318.86 L248.8,318.85 L250.52,318.85 L250.52,318.6 L252.24,318.6 L252.24,319.23 L253.96,319.23 L253.96,319.33 L255.68,319.33 L255.68,318.83 L257.4,318.83 L257.4,318.81 L259.12,318.81 L259.12,318.43 L260.84,318.43 L260.84,318.37 L262.56,318.37 L262.56,318.51 L264.28,318.51 L264.28,318.37 L266.0,318.37 L266.0,318.8 L267.72,318.8 L267.72,318.12 L269.44,318.12 L269.44,317.92 L271.16,317.92 L271.16,318.69 L272.88,318.69 L272.88,318.23 L274.6,318.23 L274.6,317.81 L276.32,317.81 L276.32,318.09 L278.04,318.09 L278.04,317.56 L279.76,317.56 L279.76,317.93 L281.48,317.93 L281.48,318.26 L283.2,318.26 L283.2,318.08 L284.92,318.08 L284.92,317.86 L286.64,317.86 L286.64,317.39 L288.36,317.39 L288.36,317.41 L290.08,317.41 L290.08,317.15 L291.8,317.15 L291.8,317.61 L293.52,317.61 L293.52,317.31 L295.24,317.31 L295.24,317.45 L296.96,317.45 L296.96,316.96 L298.68,316.96 L298.68,316.77 L300.4,316.77 L300.4,317.22 L302.12,317.22 L302.12,317.29 L303.84,317.29 L303.84,317.08 L305.56,317.08 L305.56,316.95 L307.28,316.95 L307.28,316.88 L309.0,316.88 L309.0,316.72 L310.72,316.72 L310.72,316.2 L312.44,316.2 L312.44,316.41 L314.16,316.41 L314.16,316.21 L315.88,316.21 L315.88,315.86 L317.6,315.86 L317.6,315.8 L319.32,315.8 L319.32,315.97 L321.04,315.97 L321.04,315.9 L322.76,315.9 L322.76,316.23 L324.48,316.23 L324.48,316.41 L326.2,316.41 L326.2,315.9 L327.92,315.9 L327.92,316.28 L329.64,316.28 L329.64,316.27 L331.36,316.27 L331.36,316.19 L333.08,316.19 L333.08,315.6 L334.8,315.6 L334.8,315.41 L336.52,315.41 L336.52,315.36 L338.24,315.36 L338.24,315.28 L339.96,315.28 L339.96,315.23 L341.68,315.23 L341.68,315.55 L343.4,315.55 L343.4,315.75 L345.12,315.75 L345.12,315.64 L346.84,315.64 L346.84,315.26 L348.56,315.26 L348.56,315.36 L350.28,315.36 L350.28,315.47 L352.0,315.47 L352.0,314.81 L353.72,314.81 L353.72,315.33 L355.44,315.33 L355.44,315.54 L357.16,315.54 L357.16,315.42 L358.88,315.42 L358.88,315.39 L360.6,315.39 L360.6,315.13 L362.32,315.13 L362.32,314.86 L364.04,314.86 L364.04,315.4 L365.76,315.4 L365.76,314.98 L367.48,314.98 L367.48,315.4 L369.2,315.4 L369.2,315.54 L370.92,315.54 L370.92,315.02 L372.64,315.02 L372.64,315.02 L374.36,315.02 L374.36,315.5 L376.08,315.5 L376.08,315.29 L377.8,315.29 L377.8,314.79 L379.52,314.79 L379.52,314.74 L381.24,314.74 L381.24,314.76 L382.96,314.76 L382.96,315.43 L384.68,315.43 L384.68,315.33 L386.4,315.33 L386.4,314.73 L388.12,314.73 L388.12,315.34 L389.84,315.34 L389.84,315.47 L391.56,315.47 L391.56,315.17 L393.28,315.17 L393.28,314.89 L395.0,314.89 L395.0,315.06 L396.72,315.06 L396.72,314.68 L398.44,314.68 L398.44,314.57 L400.16,314.57 L400.16,315.43 L401.88,315.43 L401.88,315.15 L403.6,315.15 L403.6,315.04 L405.32,315.04 L405.32,315.41 L407.04,315.41 L407.04,314.97 L408.76,314.97 L408.76,315.37 L410.48,315.37 L410.48,315.34 L412.2,315.34 L412.2,314.79 L413.92,314.79 L413.92,314.84 L415.64,314.84 L415.64,314.88 L417.36,314.88 L417.36,314.84 L419.08,314.84 L419.08,315.16 L420.8,315.16 L420.8,314.87 L422.52,314.87 L422.52,315.02 L424.24,315.02 L424.24,314.77 L425.96,314.77 L425.96,315.48 L427.68,315.48 L427.68,314.98 L429.4,314.98 L429.4,315.08 L431.12,315.08 L431.12,315.2 L432.84,315.2 L432.84,315.5 L434.56,315.5 L434.56,315.07 L436.28,315.07 L436.28,315.52 L438.0,315.52 L438.0,315.16 L439.72,315.16 L439.72,315.19 L441.44,315.19 L441.44,315.19 L443.16,315.19 L443.16,314.74 L444.88,314.74 L444.88,315.13 L446.6,315.13 L446.6,314.9 L448.32,314.9 L448.32,314.75 L450.04,314.75 L450.04,315.45 L451.76,315.45 L451.76,314.86 L453.48,314.86 L453.48,315.1 L455.2,315.1 L455.2,315.3 L456.92,315.3 L456.92,315.12 L458.64,315.12 L458.64,314.89 L460.36,314.89 L460.36,315.03 L462.08,315.03 L462.08,315.03 L463.8,315.03 L463.8,315.21 L465.52,315.21 L465.52,314.57 L467.24,314.57 L467.24,314.95 L468.96,314.95 L468.96,314.64 L470.68,314.64 L470.68,314.64 L472.4,314.64 L472.4,315.06 L474.12,315.06 L474.12,314.79 L475.84,314.79 L475.84,314.81 L477.56,314.81 L477.56,314.96 L479.28,314.96 L479.28,315.07 L481.0,315.07 L481.0,314.59 L482.72,314.59 L482.72,314.69 L484.44,314.69 L484.44,314.55 L486.16,314.55 L486.16,314.5 L487.88,314.5 L487.88,314.61 L489.6,314.61 L489.6,314.34 L491.32,314.34 L491.32,314.36 L493.04,314.36 L493.04,314.26 L494.76,314.26 L494.76,314.63 L496.48,314.63 L496.48,314.36 L498.2,314.36 L498.2,314.47 L499.92,314.47 L499.92,314.47 L501.64,314.47 L501.64,313.8 L503.36,313.8 L503.36,314.01 L505.08,314.01 L505.08,314.29 L506.8,314.29 L506.8,314.14 L508.52,314.14 L508.52,313.45 L510.24,313.45 L510.24,313.37 L511.96,313.37 L511.96,313.6 L513.68,313.6 L513.68,313.21 L515.4,313.21 L515.4,313.3 L517.12,313.3 L517.12,313.09 L518.84,313.09 L518.84,313.56 L520.56,313.56 L520.56,313.56 L522.28,313.56 L522.28,313.55 L524.0,313.55 L524.0,312.77 L525.72,312.77 L525.72,313.16 L527.44,313.16 L527.44,312.99 L529.16,312.99 L529.16,312.41 L530.88,312.41 L530.88,312.96 L532.6,312.96 L532.6,312.92 L534.32,312.92 L534.32,312.15 L536.04,312.15 L536.04,312.79 L537.76,312.79 L537.76,312.28 L539.48,312.28 L539.48,312.35 L541.2,312.35 L541.2,312.78 L542.92,312.78 L542.92,312.63 L544.64,312.63 L544.64,312.01 L546.36,312.01 L546.36,312.24 L548.08,312.24 L548.08,312.3 L549.8,312.3 L549.8,312.13 L551.52,312.13 L551.52,311.99 L553.24,311.99 L553.24,312.08 L554.96,312.08 L554.96,312.43 L556.68,312.43 L556.68,311.79 L558.4,311.79 L558.4,312.25 L560.12,312.25 L560.12,312.11 L561.84,312.11 L561.84,311.66 L563.56,311.66 L563.56,311.87 L565.28,311.87 L565.28,312.07 L567.0,312.07 L567.0,311.9 L568.72,311.9 L568.72,311.42 L570.44,311.42 L570.44,312.18 L572.16,312.18 L572.16,311.94 L573.88,311.94 L573.88,312.03 L575.6,312.03 L575.6,311.28 L577.32,311.28 L577.32,311.47 L579.04,311.47 L579.04,311.3 L580.76,311.3 L580.76,312.01 L582.48,312.01 L582.48,311.59 L584.2,311.59 L584.2,311.51 L585.92,311.51 L585.92,311.81 L587.64,311.81 L587.64,312.29 L589.36,312.29 L589.36,312.25 L591.08,312.25 L591.08,311.79 L592.8,311.79 L592.8,311.73 L594.52,311.73 L594.52,312.47 L596.24,312.47 L596.24,312.19 L597.96,312.19 L597.96,312.35 L599.68,312.35 L599.68,311.81 L601.4,311.81 L601.4,311.73 L603.12,311.73 L603.12,312.25 L604.84,312.25 L604.84,311.96 L606.56,311.96 L606.56,311.59 L608.28,311.59 L608.28,312.32 L610.0,312.32 L610.0,312.0 L611.72,312.0 L611.72,312.09 L613.44,312.09 L613.44,311.4 L615.16,311.4 L615.16,312.04 L616.88,312.04 L616.88,311.28 L618.6,311.28 L618.6,311.94 L620.32,311.94 L620.32,311.58 L622.04,311.58 L622.04,311.51 L623.76,311.51 L623.76,311.74 L625.48,311.74 L625.48,312.11 L627.2,312.11 L627.2,311.55 L628.92,311.55 L628.92,311.46 L630.64,311.46 L630.64,311.85 L632.36,311.85 L632.36,311.63 L634.08,311.63 L634.08,311.55 L635.8,311.55 L635.8,311.63 L637.52,311.63 L637.52,311.56 L639.24,311.56 L639.24,311.73 L640.96,311.73 L640.96,311.87 L642.68,311.87 L642.68,311.9 L644.4,311.9 L644.4,312.34 L646.12,312.34 L646.12,311.95 L647.84,311.95 L647.84,312.17 L649.56,312.17 L649.56,311.92 L651.28,311.92 L651.28,312.11 L653.0,312.11 L653.0,311.84 L654.72,311.84 L654.72,312.09 L656.44,312.09 L656.44,311.91 L658.16,311.91 L658.16,312.59 L659.88,312.59 L659.88,312.45 L661.6,312.45 L661.6,312.14 L663.32,312.14 L663.32,312.41 L665.04,312.41 L665.04,312.84 L666.76,312.84 L666.76,312.1 L668.48,312.1 L668.48,312.76 L670.2,312.76 L670.2,312.42 L671.92,312.42 L671.92,312.49 L673.64,312.49 L673.64,312.81 L675.36,312.81 L675.36,312.43 L677.08,312.43 L677.08,312.54 L678.8,312.54 L678.8,312.72 L680.52,312.72 L680.52,312.99 L682.24,312.99 L682.24,312.43 L683.96,312.43 L683.96,312.89 L685.68,312.89 L685.68,312.79 L687.4,312.79 L687.4,312.73 L689.12,312.73 L689.12,312.54 L690.84,312.54 L690.84,312.5 L692.56,312.5 L692.56,312.25 L694.28,312.25 L694.28,312.33 L696.0,312.33 L696.0,312.29 L697.72,312.29 L697.72,312.91 L699.44,312.91 L699.44,312.47 L701.16,312.47 L701.16,312.34 L702.88,312.34 L702.88,312.23 L704.6,312.23 L704.6,312.86 L706.32,312.86 L706.32,312.84 L708.04,312.84 L708.04,312.62 L709.76,312.62 L709.76,312.22 L711.48,312.22 L711.48,312.14 L713.2,312.14 L713.2,312.14 L714.92,312.14 L714.92,312.24 L716.64,312.24 L716.64,311.93 L718.36,311.93 L718.36,312.14 L720.08,312.14 L720.08,311.93 L721.8,311.93 L721.8,312.51 L723.52,312.51 L723.52,312.48 L725.24,312.48 L725.24,312.05 L726.96,312.05 L726.96,311.73 L728.68,311.73 L728.68,312.33 L730.4,312.33 L730.4,311.73 L732.12,311.73 L732.12,311.77 L733.84,311.77 L733.84,311.45 L735.56,311.45 L735.56,311.79 L737.28,311.79 L737.28,311.88 L739.0,311.88 L739.0,311.9 L740.72,311.9 L740.72,311.63 L742.44,311.63 L742.44,311.9 L744.16,311.9 L744.16,311.45 L745.88,311.45 L745.88,311.69 L747.6,311.69 L747.6,311.53 L749.32,311.53 L749.32,311.82 L751.04,311.82 L751.04,311.62 L752.76,311.62 L752.76,311.72 L754.48,311.72 L754.48,312.1 L756.2,312.1 L756.2,312.15 L757.92,312.15 L757.92,312.59 L759.64,312.59 L759.64,312.55 L761.36,312.55 L761.36,312.47 L763.08,312.47 L763.08,312.11 L764.8,312.11 L764.8,311.89 L766.52,311.89 L766.52,311.76 L768.24,311.76 L768.24,311.04 L769.96,311.04 L769.96,310.71 L771.68,310.71 L771.68,311.03 L773.4,311.03 L773.4,310.0 L775.12,310.0 L775.12,310.37 L776.84,310.37 L776.84,310.24 L778.56,310.24 L778.56,309.65 L780.28,309.65 L780.28,310.31 L782.0,310.31 L782.0,310.3 L783.72,310.3 L783.72,310.01 L785.44,310.01 L785.44,310.05 L787.16,310.05 L787.16,310.06 L788.88,310.06 L788.88,309.4 L790.6,309.4 L790.6,309.69 L792.32,309.69 L792.32,309.62 L794.04,309.62 L794.04,309.86 L795.76,309.86 L795.76,309.78 L797.48,309.78 L797.48,309.75 L799.2,309.75 L799.2,309.47 L800.92,309.47 L800.92,309.7 L802.64,309.7 L802.64,309.46 L804.36,309.46 L804.36,309.42 L806.08,309.42 L806.08,308.95 L807.8,308.95 L807.8,308.72 L809.52,308.72 L809.52,308.75 L811.24,308.75 L811.24,308.85 L812.96,308.85 L812.96,308.52 L814.68,308.52 L814.68,309.07 L816.4,309.07 L816.4,308.72 L818.12,308.72 L818.12,308.68 L819.84,308.68 L819.84,308.57 L821.56,308.57 L821.56,308.52 L823.28,308.52 L823.28,308.24 L825.0,308.24 L825.0,307.7 L826.72,307.7 L826.72,308.31 L828.44,308.31 L828.44,308.17 L830.16,308.17 L830.16,307.94 L831.88,307.94 L831.88,308.03 L833.6,308.03 L833.6,308.2 L835.32,308.2 L835.32,307.73 L837.04,307.73 L837.04,308.39 L838.76,308.39 L838.76,308.01 L840.48,308.01 L840.48,307.91 L842.2,307.91 L842.2,308.15 L843.92,308.15 L843.92,308.62 L845.64,308.62 L845.64,308.21 L847.36,308.21 L847.36,308.75 L849.08,308.75 L849.08,309.03 L850.8,309.03 L850.8,308.57 L852.52,308.57 L852.52,308.44 L854.24,308.44 L854.24,308.5 L855.96,308.5 L855.96,308.65 L857.68,308.65 L857.68,308.7 L859.4,308.7 L859.4,308.53 L861.12,308.53 L861.12,308.53 L862.84,308.53 L862.84,307.99 L864.56,307.99 L864.56,308.03 L866.28,308.03 L866.28,308.09 L868.0,308.09 L868.0,308.5 L869.72,308.5 L869.72,308.08 L871.44,308.08 L871.44,308.29 L873.16,308.29 L873.16,307.76 L874.88,307.76 L874.88,307.78 L876.6,307.78 L876.6,307.93 L878.32,307.93 L878.32,308.27 L880.04,308.27 L880.04,308.27 L881.76,308.27 L881.76,308.24 L883.48,308.24 L883.48,307.88 L885.2,307.88 L885.2,308.07 L886.92,308.07 L886.92,308.01 L888.64,308.01 L888.64,308.0 L890.36,308.0 L890.36,307.68 L892.08,307.68 L892.08,308.36 L893.8,308.36 L893.8,307.72 L895.52,307.72 L895.52,308.41 L897.24,308.41 L897.24,308.36 L898.96,308.36 L898.96,307.52 L900.68,307.52 L900.68,307.91 L902.4,307.91 L902.4,308.22 L904.12,308.22 L904.12,308.34 L905.84,308.34 L905.84,307.86 L907.56,307.86 L907.56,307.69 L909.28,307.69 L909.28,307.62 L911.0,307.62 L911.0,308.27 L912.72,308.27 L912.72,307.6 L914.44,307.6 L914.44,307.92 L916.16,307.92 L916.16,307.51 L917.88,307.51 L917.88,307.84 L919.6,307.84 L919.6,308.22 L921.32,308.22 L921.32,307.47 L923.04,307.47 L923.04,308.07 L924.76,308.07 L924.76,307.78 L926.48,307.78 L926.48,308.11 L928.2,308.11 L928.2,307.93 L929.92,307.93 L929.92,307.5 L931.64,307.5 L931.64,308.08 L933.36,308.08 L933.36,307.7 L935.08,307.7 L935.08,307.27 L936.8,307.27 L936.8,307.24 L938.52,307.24 L938.52,307.67 L940.24,307.67 L940.24,307.62 L941.96,307.62 L941.96,307.47 L943.68,307.47 L943.68,307.32 L945.4,307.32 L945.4,307.49 L947.12,307.49 L947.12,307.45 L948.84,307.45 L948.84,307.91 L950.56,307.91 L950.56,307.11 L952.28,307.11 L952.28,307.72 L954.0,307.72 L954.0,307.75 L955.72,307.75 L955.72,307.04 L957.44,307.04 L957.44,307.71 L959.16,307.71 L959.16,307.47 L960.88,307.47 L960.88,307.58 L962.6,307.58 L962.6,306.97 L964.32,306.97 L964.32,306.99 L966.04,306.99 L966.04,306.95 L967.76,306.95 L967.76,307.44 L969.48,307.44 L969.48,307.02 L971.2,307.02 L971.2,306.76 L972.92,306.76 L972.92,306.76 L974.64,306.76 L974.64,306.57 L976.36,306.57 L976.36,306.31 L978.08,306.31 L978.08,306.3 L979.8,306.3 L979.8,306.9 L981.52,306.9 L981.52,306.35 L983.24,306.35 L983.24,306.88 L984.96,306.88 L984.96,306.21 L986.68,306.21 L986.68,306.17 L988.4,306.17 L988.4,306.33 L990.12,306.33 L990.12,305.91 L991.84,305.91 L991.84,305.89 L993.56,305.89 L993.56,306.22 L995.28,306.22 L995.28,305.97 L997.0,305.97 L997.0,305.72 L998.72,305.72 L998.72,305.36 L1000.44,305.36 L1000.44,305.42 L1002.16,305.42 L1002.16,305.23 L1003.88,305.23 L1003.88,304.68 L1005.6,304.68 L1005.6,304.62 L1007.32,304.62 L1007.32,303.91 L1007.5,303.91 L1007.5,351.5 L8,351.5 Z" fill="url(#vstripe)"/>
<!-- area fills -->
<path d="M52.85,70.5 L56.29,71.4 L59.73,66.4 L63.16,58.8 L66.6,56.1 L70.04,57.3 L73.47,55.9 L76.91,63.0 L80.35,57.6 L83.79,60.7 L87.22,62.0 L90.66,61.1 L94.1,61.6 L97.54,60.5 L100.97,55.7 L104.41,57.3 L107.85,59.7 L111.29,62.4 L114.72,59.7 L118.16,56.6 L121.6,58.8 L125.04,56.6 L128.47,59.1 L131.91,62.4 L135.35,63.6 L138.79,59.1 L142.22,58.8 L145.66,57.6 L149.1,59.5 L152.54,59.8 L155.97,52.6 L159.41,56.3 L162.85,60.7 L166.29,69.6 L169.72,65.0 L173.16,64.8 L176.6,68.7 L180.04,69.9 L183.47,73.6 L186.91,68.4 L190.35,68.2 L193.79,68.2 L197.22,67.3 L200.66,68.4 L204.1,67.8 L207.54,71.6 L210.97,72.1 L214.41,73.9 L217.85,75.7 L221.29,81.3 L224.72,87.8 L228.16,86.6 L231.6,87.8 L235.04,98.0 L238.47,112.0 L241.91,116.2 L245.35,121.0 L248.79,128.5 L252.22,134.3 L255.66,124.8 L259.1,115.5 L262.54,122.8 L265.98,118.4 L269.41,108.7 L272.85,116.0 L276.29,115.8 L279.73,90.35 L283.16,64.9 L286.6,79.9 L290.04,73.1 L293.48,88.8 L296.91,93.1 L300.35,94.1 L303.79,111.4 L307.23,105.7 L310.66,127.0 L314.1,113.85 L317.54,100.7 L320.98,115.8 L324.41,116.9 L327.85,113.1 L331.29,116.9 L334.73,117.9 L338.16,122.5 L341.6,130.3 L345.04,144.5 L348.48,149.7 L351.91,153.4 L355.35,147.5 L358.79,140.0 L362.23,137.5 L365.66,129.1 L369.1,130.6 L372.54,128.5 L375.98,110.4 L379.41,110.2 L382.85,114.0 L386.29,114.6 L389.73,123.9 L393.16,126.1 L396.6,128.4 L400.04,137.6 L403.48,138.5 L406.91,147.8 L410.35,162.5 L413.79,158.7 L417.23,168.0 L420.66,165.9 L424.1,162.4 L427.54,158.7 L430.98,163.5 L434.41,165.5 L437.85,170.9 L441.29,176.9 L444.73,174.6 L448.16,171.6 L451.6,169.0 L455.04,159.7 L458.48,169.1 L461.91,174.6 L465.35,179.6 L468.79,176.1 L472.23,183.6 L475.66,186.6 L479.1,187.3 L482.54,185.5 L485.98,187.0 L489.41,197.8 L492.85,199.3 L496.29,198.1 L499.73,203.0 L503.16,206.7 L506.6,212.4 L510.04,213.9 L513.48,216.1 L516.91,206.95 L520.35,197.8 L523.79,203.7 L527.23,206.4 L530.66,211.6 L534.1,209.0 L537.54,197.0 L540.98,199.0 L544.41,196.0 L547.85,194.5 L551.29,191.0 L554.73,190.8 L558.16,202.5 L561.6,204.6 L565.04,203.1 L568.48,204.8 L571.91,205.1 L575.35,201.0 L578.79,207.0 L582.23,200.0 L585.66,197.3 L589.1,200.0 L592.54,191.0 L595.98,190.9 L599.41,194.0 L602.85,191.8 L606.29,189.4 L609.73,188.4 L613.16,186.9 L616.6,181.3 L620.04,185.8 L623.48,184.9 L626.91,186.1 L630.35,186.4 L633.79,192.1 L637.23,194.3 L640.66,200.3 L644.1,197.8 L647.54,199.1 L650.98,197.6 L654.41,195.8 L657.85,196.3 L661.29,193.1 L664.73,190.3 L668.16,187.6 L671.6,186.1 L675.04,182.8 L678.48,186.4 L681.91,192.5 L685.35,184.9 L688.79,194.3 L692.23,199.6 L695.66,202.5 L699.1,216.2 L702.54,201.7 L705.98,193.9 L709.41,189.6 L712.85,194.4 L716.29,190.7 L719.73,196.2 L723.16,191.0 L726.6,197.4 L730.04,201.9 L733.48,195.6 L736.91,199.6 L740.35,200.1 L743.79,202.6 L747.23,205.6 L750.66,203.8 L754.1,219.0 L757.54,212.6 L760.98,223.5 L764.41,231.0 L767.85,219.2 L771.29,207.4 L774.73,213.1 L778.16,220.5 L781.6,218.7 L785.04,213.8 L788.48,224.6 L791.91,237.7 L795.35,251.1 L798.79,251.6 L802.23,252.9 L805.66,252.9 L809.1,261.3 L812.54,263.5 L815.98,275.4 L819.41,243.9 L822.85,242.4 L826.29,239.2 L829.73,237.7 L833.16,236.5 L836.6,243.7 L840.04,254.9 L843.48,257.1 L846.91,265.0 L850.35,266.0 L853.79,268.3 L857.23,264.9 L860.66,267.8 L864.1,271.7 L867.54,271.0 L870.98,279.9 L874.41,263.8 L877.85,271.3 L881.29,265.3 L884.73,259.3 L888.16,257.4 L891.6,253.4 L895.04,260.1 L898.48,256.8 L901.91,264.9 L905.35,266.5 L908.79,257.7 L912.23,261.5 L915.66,259.7 L919.1,267.9 L922.54,266.4 L925.98,261.9 L929.41,261.7 L932.85,267.3 L936.29,265.5 L939.73,271.5 L943.16,281.2 L946.6,285.7 L950.04,283.4 L953.48,281.9 L956.91,280.4 L960.35,286.4 L963.79,275.5 L967.23,271.9 L970.66,273.0 L974.1,267.8 L977.54,263.3 L980.98,258.5 L984.41,250.6 L987.85,249.9 L991.29,250.6 L994.73,251.3 L998.16,249.4 L1001.6,240.9 L1005.04,239.7 L1007.5,239.1 L1007.5,58.4 L52.85,58.4 Z" fill="url(#rg)" clip-path="url(#below)"/>
<path d="M52.85,70.5 L56.29,71.4 L59.73,66.4 L63.16,58.8 L66.6,56.1 L70.04,57.3 L73.47,55.9 L76.91,63.0 L80.35,57.6 L83.79,60.7 L87.22,62.0 L90.66,61.1 L94.1,61.6 L97.54,60.5 L100.97,55.7 L104.41,57.3 L107.85,59.7 L111.29,62.4 L114.72,59.7 L118.16,56.6 L121.6,58.8 L125.04,56.6 L128.47,59.1 L131.91,62.4 L135.35,63.6 L138.79,59.1 L142.22,58.8 L145.66,57.6 L149.1,59.5 L152.54,59.8 L155.97,52.6 L159.41,56.3 L162.85,60.7 L166.29,69.6 L169.72,65.0 L173.16,64.8 L176.6,68.7 L180.04,69.9 L183.47,73.6 L186.91,68.4 L190.35,68.2 L193.79,68.2 L197.22,67.3 L200.66,68.4 L204.1,67.8 L207.54,71.6 L210.97,72.1 L214.41,73.9 L217.85,75.7 L221.29,81.3 L224.72,87.8 L228.16,86.6 L231.6,87.8 L235.04,98.0 L238.47,112.0 L241.91,116.2 L245.35,121.0 L248.79,128.5 L252.22,134.3 L255.66,124.8 L259.1,115.5 L262.54,122.8 L265.98,118.4 L269.41,108.7 L272.85,116.0 L276.29,115.8 L279.73,90.35 L283.16,64.9 L286.6,79.9 L290.04,73.1 L293.48,88.8 L296.91,93.1 L300.35,94.1 L303.79,111.4 L307.23,105.7 L310.66,127.0 L314.1,113.85 L317.54,100.7 L320.98,115.8 L324.41,116.9 L327.85,113.1 L331.29,116.9 L334.73,117.9 L338.16,122.5 L341.6,130.3 L345.04,144.5 L348.48,149.7 L351.91,153.4 L355.35,147.5 L358.79,140.0 L362.23,137.5 L365.66,129.1 L369.1,130.6 L372.54,128.5 L375.98,110.4 L379.41,110.2 L382.85,114.0 L386.29,114.6 L389.73,123.9 L393.16,126.1 L396.6,128.4 L400.04,137.6 L403.48,138.5 L406.91,147.8 L410.35,162.5 L413.79,158.7 L417.23,168.0 L420.66,165.9 L424.1,162.4 L427.54,158.7 L430.98,163.5 L434.41,165.5 L437.85,170.9 L441.29,176.9 L444.73,174.6 L448.16,171.6 L451.6,169.0 L455.04,159.7 L458.48,169.1 L461.91,174.6 L465.35,179.6 L468.79,176.1 L472.23,183.6 L475.66,186.6 L479.1,187.3 L482.54,185.5 L485.98,187.0 L489.41,197.8 L492.85,199.3 L496.29,198.1 L499.73,203.0 L503.16,206.7 L506.6,212.4 L510.04,213.9 L513.48,216.1 L516.91,206.95 L520.35,197.8 L523.79,203.7 L527.23,206.4 L530.66,211.6 L534.1,209.0 L537.54,197.0 L540.98,199.0 L544.41,196.0 L547.85,194.5 L551.29,191.0 L554.73,190.8 L558.16,202.5 L561.6,204.6 L565.04,203.1 L568.48,204.8 L571.91,205.1 L575.35,201.0 L578.79,207.0 L582.23,200.0 L585.66,197.3 L589.1,200.0 L592.54,191.0 L595.98,190.9 L599.41,194.0 L602.85,191.8 L606.29,189.4 L609.73,188.4 L613.16,186.9 L616.6,181.3 L620.04,185.8 L623.48,184.9 L626.91,186.1 L630.35,186.4 L633.79,192.1 L637.23,194.3 L640.66,200.3 L644.1,197.8 L647.54,199.1 L650.98,197.6 L654.41,195.8 L657.85,196.3 L661.29,193.1 L664.73,190.3 L668.16,187.6 L671.6,186.1 L675.04,182.8 L678.48,186.4 L681.91,192.5 L685.35,184.9 L688.79,194.3 L692.23,199.6 L695.66,202.5 L699.1,216.2 L702.54,201.7 L705.98,193.9 L709.41,189.6 L712.85,194.4 L716.29,190.7 L719.73,196.2 L723.16,191.0 L726.6,197.4 L730.04,201.9 L733.48,195.6 L736.91,199.6 L740.35,200.1 L743.79,202.6 L747.23,205.6 L750.66,203.8 L754.1,219.0 L757.54,212.6 L760.98,223.5 L764.41,231.0 L767.85,219.2 L771.29,207.4 L774.73,213.1 L778.16,220.5 L781.6,218.7 L785.04,213.8 L788.48,224.6 L791.91,237.7 L795.35,251.1 L798.79,251.6 L802.23,252.9 L805.66,252.9 L809.1,261.3 L812.54,263.5 L815.98,275.4 L819.41,243.9 L822.85,242.4 L826.29,239.2 L829.73,237.7 L833.16,236.5 L836.6,243.7 L840.04,254.9 L843.48,257.1 L846.91,265.0 L850.35,266.0 L853.79,268.3 L857.23,264.9 L860.66,267.8 L864.1,271.7 L867.54,271.0 L870.98,279.9 L874.41,263.8 L877.85,271.3 L881.29,265.3 L884.73,259.3 L888.16,257.4 L891.6,253.4 L895.04,260.1 L898.48,256.8 L901.91,264.9 L905.35,266.5 L908.79,257.7 L912.23,261.5 L915.66,259.7 L919.1,267.9 L922.54,266.4 L925.98,261.9 L929.41,261.7 L932.85,267.3 L936.29,265.5 L939.73,271.5 L943.16,281.2 L946.6,285.7 L950.04,283.4 L953.48,281.9 L956.91,280.4 L960.35,286.4 L963.79,275.5 L967.23,271.9 L970.66,273.0 L974.1,267.8 L977.54,263.3 L980.98,258.5 L984.41,250.6 L987.85,249.9 L991.29,250.6 L994.73,251.3 L998.16,249.4 L1001.6,240.9 L1005.04,239.7 L1007.5,239.1 L1007.5,58.4 L52.85,58.4 Z" fill="url(#gg)" clip-path="url(#above)"/>
<path d="M21.5,55.5 L25,49 L28.5,55.5 Z" fill="#16C784" opacity="0.07"/>
<!-- baseline dotted -->
<line x1="56" x2="1007" y1="58.5" y2="58.5" stroke="#9ca2ae" stroke-width="1" stroke-dasharray="1 3" shape-rendering="crispEdges"/>
<rect x="8.2" y="57.9" width="1.5" height="1.5" fill="#8a3a42"/>
<!-- price line -->
<path d="M52.85,70.5 L56.29,71.4 L59.73,66.4 L63.16,58.8 L66.6,56.1 L70.04,57.3 L73.47,55.9 L76.91,63.0 L80.35,57.6 L83.79,60.7 L87.22,62.0 L90.66,61.1 L94.1,61.6 L97.54,60.5 L100.97,55.7 L104.41,57.3 L107.85,59.7 L111.29,62.4 L114.72,59.7 L118.16,56.6 L121.6,58.8 L125.04,56.6 L128.47,59.1 L131.91,62.4 L135.35,63.6 L138.79,59.1 L142.22,58.8 L145.66,57.6 L149.1,59.5 L152.54,59.8 L155.97,52.6 L159.41,56.3 L162.85,60.7 L166.29,69.6 L169.72,65.0 L173.16,64.8 L176.6,68.7 L180.04,69.9 L183.47,73.6 L186.91,68.4 L190.35,68.2 L193.79,68.2 L197.22,67.3 L200.66,68.4 L204.1,67.8 L207.54,71.6 L210.97,72.1 L214.41,73.9 L217.85,75.7 L221.29,81.3 L224.72,87.8 L228.16,86.6 L231.6,87.8 L235.04,98.0 L238.47,112.0 L241.91,116.2 L245.35,121.0 L248.79,128.5 L252.22,134.3 L255.66,124.8 L259.1,115.5 L262.54,122.8 L265.98,118.4 L269.41,108.7 L272.85,116.0 L276.29,115.8 L279.73,90.35 L283.16,64.9 L286.6,79.9 L290.04,73.1 L293.48,88.8 L296.91,93.1 L300.35,94.1 L303.79,111.4 L307.23,105.7 L310.66,127.0 L314.1,113.85 L317.54,100.7 L320.98,115.8 L324.41,116.9 L327.85,113.1 L331.29,116.9 L334.73,117.9 L338.16,122.5 L341.6,130.3 L345.04,144.5 L348.48,149.7 L351.91,153.4 L355.35,147.5 L358.79,140.0 L362.23,137.5 L365.66,129.1 L369.1,130.6 L372.54,128.5 L375.98,110.4 L379.41,110.2 L382.85,114.0 L386.29,114.6 L389.73,123.9 L393.16,126.1 L396.6,128.4 L400.04,137.6 L403.48,138.5 L406.91,147.8 L410.35,162.5 L413.79,158.7 L417.23,168.0 L420.66,165.9 L424.1,162.4 L427.54,158.7 L430.98,163.5 L434.41,165.5 L437.85,170.9 L441.29,176.9 L444.73,174.6 L448.16,171.6 L451.6,169.0 L455.04,159.7 L458.48,169.1 L461.91,174.6 L465.35,179.6 L468.79,176.1 L472.23,183.6 L475.66,186.6 L479.1,187.3 L482.54,185.5 L485.98,187.0 L489.41,197.8 L492.85,199.3 L496.29,198.1 L499.73,203.0 L503.16,206.7 L506.6,212.4 L510.04,213.9 L513.48,216.1 L516.91,206.95 L520.35,197.8 L523.79,203.7 L527.23,206.4 L530.66,211.6 L534.1,209.0 L537.54,197.0 L540.98,199.0 L544.41,196.0 L547.85,194.5 L551.29,191.0 L554.73,190.8 L558.16,202.5 L561.6,204.6 L565.04,203.1 L568.48,204.8 L571.91,205.1 L575.35,201.0 L578.79,207.0 L582.23,200.0 L585.66,197.3 L589.1,200.0 L592.54,191.0 L595.98,190.9 L599.41,194.0 L602.85,191.8 L606.29,189.4 L609.73,188.4 L613.16,186.9 L616.6,181.3 L620.04,185.8 L623.48,184.9 L626.91,186.1 L630.35,186.4 L633.79,192.1 L637.23,194.3 L640.66,200.3 L644.1,197.8 L647.54,199.1 L650.98,197.6 L654.41,195.8 L657.85,196.3 L661.29,193.1 L664.73,190.3 L668.16,187.6 L671.6,186.1 L675.04,182.8 L678.48,186.4 L681.91,192.5 L685.35,184.9 L688.79,194.3 L692.23,199.6 L695.66,202.5 L699.1,216.2 L702.54,201.7 L705.98,193.9 L709.41,189.6 L712.85,194.4 L716.29,190.7 L719.73,196.2 L723.16,191.0 L726.6,197.4 L730.04,201.9 L733.48,195.6 L736.91,199.6 L740.35,200.1 L743.79,202.6 L747.23,205.6 L750.66,203.8 L754.1,219.0 L757.54,212.6 L760.98,223.5 L764.41,231.0 L767.85,219.2 L771.29,207.4 L774.73,213.1 L778.16,220.5 L781.6,218.7 L785.04,213.8 L788.48,224.6 L791.91,237.7 L795.35,251.1 L798.79,251.6 L802.23,252.9 L805.66,252.9 L809.1,261.3 L812.54,263.5 L815.98,275.4 L819.41,243.9 L822.85,242.4 L826.29,239.2 L829.73,237.7 L833.16,236.5 L836.6,243.7 L840.04,254.9 L843.48,257.1 L846.91,265.0 L850.35,266.0 L853.79,268.3 L857.23,264.9 L860.66,267.8 L864.1,271.7 L867.54,271.0 L870.98,279.9 L874.41,263.8 L877.85,271.3 L881.29,265.3 L884.73,259.3 L888.16,257.4 L891.6,253.4 L895.04,260.1 L898.48,256.8 L901.91,264.9 L905.35,266.5 L908.79,257.7 L912.23,261.5 L915.66,259.7 L919.1,267.9 L922.54,266.4 L925.98,261.9 L929.41,261.7 L932.85,267.3 L936.29,265.5 L939.73,271.5 L943.16,281.2 L946.6,285.7 L950.04,283.4 L953.48,281.9 L956.91,280.4 L960.35,286.4 L963.79,275.5 L967.23,271.9 L970.66,273.0 L974.1,267.8 L977.54,263.3 L980.98,258.5 L984.41,250.6 L987.85,249.9 L991.29,250.6 L994.73,251.3 L998.16,249.4 L1001.6,240.9 L1005.04,239.7 L1007.5,239.1" fill="none" stroke="#E23548" stroke-width="1.85" stroke-linejoin="round" stroke-linecap="butt" clip-path="url(#lbelow)"/>
<path d="M52.85,70.5 L56.29,71.4 L59.73,66.4 L63.16,58.8 L66.6,56.1 L70.04,57.3 L73.47,55.9 L76.91,63.0 L80.35,57.6 L83.79,60.7 L87.22,62.0 L90.66,61.1 L94.1,61.6 L97.54,60.5 L100.97,55.7 L104.41,57.3 L107.85,59.7 L111.29,62.4 L114.72,59.7 L118.16,56.6 L121.6,58.8 L125.04,56.6 L128.47,59.1 L131.91,62.4 L135.35,63.6 L138.79,59.1 L142.22,58.8 L145.66,57.6 L149.1,59.5 L152.54,59.8 L155.97,52.6 L159.41,56.3 L162.85,60.7 L166.29,69.6 L169.72,65.0 L173.16,64.8 L176.6,68.7 L180.04,69.9 L183.47,73.6 L186.91,68.4 L190.35,68.2 L193.79,68.2 L197.22,67.3 L200.66,68.4 L204.1,67.8 L207.54,71.6 L210.97,72.1 L214.41,73.9 L217.85,75.7 L221.29,81.3 L224.72,87.8 L228.16,86.6 L231.6,87.8 L235.04,98.0 L238.47,112.0 L241.91,116.2 L245.35,121.0 L248.79,128.5 L252.22,134.3 L255.66,124.8 L259.1,115.5 L262.54,122.8 L265.98,118.4 L269.41,108.7 L272.85,116.0 L276.29,115.8 L279.73,90.35 L283.16,64.9 L286.6,79.9 L290.04,73.1 L293.48,88.8 L296.91,93.1 L300.35,94.1 L303.79,111.4 L307.23,105.7 L310.66,127.0 L314.1,113.85 L317.54,100.7 L320.98,115.8 L324.41,116.9 L327.85,113.1 L331.29,116.9 L334.73,117.9 L338.16,122.5 L341.6,130.3 L345.04,144.5 L348.48,149.7 L351.91,153.4 L355.35,147.5 L358.79,140.0 L362.23,137.5 L365.66,129.1 L369.1,130.6 L372.54,128.5 L375.98,110.4 L379.41,110.2 L382.85,114.0 L386.29,114.6 L389.73,123.9 L393.16,126.1 L396.6,128.4 L400.04,137.6 L403.48,138.5 L406.91,147.8 L410.35,162.5 L413.79,158.7 L417.23,168.0 L420.66,165.9 L424.1,162.4 L427.54,158.7 L430.98,163.5 L434.41,165.5 L437.85,170.9 L441.29,176.9 L444.73,174.6 L448.16,171.6 L451.6,169.0 L455.04,159.7 L458.48,169.1 L461.91,174.6 L465.35,179.6 L468.79,176.1 L472.23,183.6 L475.66,186.6 L479.1,187.3 L482.54,185.5 L485.98,187.0 L489.41,197.8 L492.85,199.3 L496.29,198.1 L499.73,203.0 L503.16,206.7 L506.6,212.4 L510.04,213.9 L513.48,216.1 L516.91,206.95 L520.35,197.8 L523.79,203.7 L527.23,206.4 L530.66,211.6 L534.1,209.0 L537.54,197.0 L540.98,199.0 L544.41,196.0 L547.85,194.5 L551.29,191.0 L554.73,190.8 L558.16,202.5 L561.6,204.6 L565.04,203.1 L568.48,204.8 L571.91,205.1 L575.35,201.0 L578.79,207.0 L582.23,200.0 L585.66,197.3 L589.1,200.0 L592.54,191.0 L595.98,190.9 L599.41,194.0 L602.85,191.8 L606.29,189.4 L609.73,188.4 L613.16,186.9 L616.6,181.3 L620.04,185.8 L623.48,184.9 L626.91,186.1 L630.35,186.4 L633.79,192.1 L637.23,194.3 L640.66,200.3 L644.1,197.8 L647.54,199.1 L650.98,197.6 L654.41,195.8 L657.85,196.3 L661.29,193.1 L664.73,190.3 L668.16,187.6 L671.6,186.1 L675.04,182.8 L678.48,186.4 L681.91,192.5 L685.35,184.9 L688.79,194.3 L692.23,199.6 L695.66,202.5 L699.1,216.2 L702.54,201.7 L705.98,193.9 L709.41,189.6 L712.85,194.4 L716.29,190.7 L719.73,196.2 L723.16,191.0 L726.6,197.4 L730.04,201.9 L733.48,195.6 L736.91,199.6 L740.35,200.1 L743.79,202.6 L747.23,205.6 L750.66,203.8 L754.1,219.0 L757.54,212.6 L760.98,223.5 L764.41,231.0 L767.85,219.2 L771.29,207.4 L774.73,213.1 L778.16,220.5 L781.6,218.7 L785.04,213.8 L788.48,224.6 L791.91,237.7 L795.35,251.1 L798.79,251.6 L802.23,252.9 L805.66,252.9 L809.1,261.3 L812.54,263.5 L815.98,275.4 L819.41,243.9 L822.85,242.4 L826.29,239.2 L829.73,237.7 L833.16,236.5 L836.6,243.7 L840.04,254.9 L843.48,257.1 L846.91,265.0 L850.35,266.0 L853.79,268.3 L857.23,264.9 L860.66,267.8 L864.1,271.7 L867.54,271.0 L870.98,279.9 L874.41,263.8 L877.85,271.3 L881.29,265.3 L884.73,259.3 L888.16,257.4 L891.6,253.4 L895.04,260.1 L898.48,256.8 L901.91,264.9 L905.35,266.5 L908.79,257.7 L912.23,261.5 L915.66,259.7 L919.1,267.9 L922.54,266.4 L925.98,261.9 L929.41,261.7 L932.85,267.3 L936.29,265.5 L939.73,271.5 L943.16,281.2 L946.6,285.7 L950.04,283.4 L953.48,281.9 L956.91,280.4 L960.35,286.4 L963.79,275.5 L967.23,271.9 L970.66,273.0 L974.1,267.8 L977.54,263.3 L980.98,258.5 L984.41,250.6 L987.85,249.9 L991.29,250.6 L994.73,251.3 L998.16,249.4 L1001.6,240.9 L1005.04,239.7 L1007.5,239.1" fill="none" stroke="#14BF7E" stroke-width="1.85" stroke-linejoin="round" stroke-linecap="butt" clip-path="url(#labove)"/>
<!-- mini chart -->
<path d="M440,446.2 L455,445.8 L470,445.2 L482,444.4 L488,443.4 L492.6,442.2 L497,443.6 L503,444.6 L515,445.0 L536,445.4 L560,445.8 L590,445.6 L610,445.2 L623,445.0 L640,445.7 L657.7,443.9 L675.4,442.6 L682.5,440.9 L687.9,439.4 L690.5,435.9 L693.2,436.8 L696.7,432.4 L701.2,431.5 L703.8,430.6 L707.4,429.7 L710.9,430.6 L713.6,433.2 L716.2,435.0 L718.9,436.8 L723.3,437.3 L726.8,434.1 L730.4,432.7 L734.8,432.4 L738.4,433.2 L741.0,429.7 L744.6,427.9 L748.1,429.7 L751.7,432.4 L755.2,433.2 L760.5,434.5 L765.8,434.1 L771.2,433.2 L774.7,435.0 L779.1,436.8 L782.7,438.6 L784.5,440.9 L792.4,440.9 L799.5,441.6 L808.4,441.6 L815.5,442.1 L822.6,440.3 L827.1,440.3 L837.7,438.6 L846.6,439.1 L855.4,437.7 L864.3,438.6 L873.2,436.8 L880.3,435.0 L885.6,433.2 L890.9,432.4 L894.4,427.9 L898.0,426.2 L903.3,427.0 L908.6,426.7 L912.2,426.2 L916.6,428.8 L921.0,427.0 L926.3,429.7 L931.7,427.9 L937.0,426.7 L940.5,420.8 L944.1,419.1 L946.7,416.4 L950.3,419.1 L953.8,417.3 L958.2,419.1 L961.8,422.6 L964.5,420.8 L967.1,422.6 L970.7,419.1 L974.2,416.4 L979.5,415.5 L983.9,414.3 L988.4,412.9 L992.8,413.7 L997.2,412.5 L1000.8,411.4 L1004.3,413.7 L1007.0,414.6 L1007,446.8 L440,446.8 Z" fill="#eff2f5"/>
<!-- handle -->
<g filter="url(#sh)"><rect x="999.2" y="415.8" width="13.8" height="19.4" rx="6.9" fill="#fff"/></g>
<line x1="1004.5" x2="1004.5" y1="422.2" y2="429.4" stroke="#6f7685" stroke-width="1"/>
<line x1="1007.5" x2="1007.5" y1="422.2" y2="429.4" stroke="#6f7685" stroke-width="1"/>
<!-- 125 badge -->
<path d="M8.3,389 L16.8,378.7 Q17.8,377.4 19.5,377.4 L47,377.4 A12.1,12.1 0 0 1 47,401.6 L19.5,401.6 Q17.8,401.6 16.8,400.3 Z" fill="#a6b0c3"/>
<g fill="none" stroke="#fff" stroke-width="1.55" stroke-linecap="round" stroke-linejoin="round" transform="translate(0,-0.7)">
<path d="M19.5,388.0 A5.1,5.1 0 1 1 20.5,392.6"/>
<path d="M18.0,385.8 L19.3,388.6 L22.0,387.4"/>
<path d="M24.6,386.3 L24.6,389.3 L26.8,390.6"/>
</g>
<!-- analyze pill -->
<path d="M958.3,378.6 L961.3,375.3 Q962,374.5 962.7,375.3 L965.7,378.6 Z" fill="#3861fb"/>
<rect x="919" y="378" width="86" height="23.7" rx="11.85" fill="#3861fb"/>
<g fill="none" stroke="#fff" stroke-width="1.45" stroke-linecap="round" stroke-linejoin="round">
<path d="M937.1,394.2 A6,6 0 0 1 929.9,395.2 L927.2,396.5 L927.6,392.9 A6,6 0 1 1 938.9,390.5 Q938.4,392.1 937.3,391.9 Q936.6,391.8 936.4,390.8 L935.6,387.7 Q935.3,386.8 934.8,387.7 L932.9,391.6 L932.0,387.9 Q931.7,387 931.2,387.9 L929.6,390.9"/>
<path d="M990.3,387.2 L993.6,390.6 L990.3,394"/>
</g>
<!-- watermark logo -->
<g fill="none" stroke="#a6b0c3" opacity="0.5" stroke-width="2" stroke-linecap="round" stroke-linejoin="round">
<path d="M870.4,310.3 A10.4,10.4 0 1 1 873.9,304.1 Q873.2,306.3 871.6,306.2 Q870.3,306.0 869.9,304.0 L868.9,299.6 Q868.5,298.4 867.8,299.6 L863.9,306.2 L862.7,298.8 Q862.3,297.5 861.5,298.8 L856.1,307.7"/>
</g>
</svg>
<div class="yl" style="top:38.6px">96.00K</div><div class="yl" style="top:75.6px">95.00K</div><div class="yl" style="top:111.6px">94.00K</div><div class="yl" style="top:147.6px">93.00K</div><div class="yl" style="top:183.6px">92.00K</div><div class="yl" style="top:220.6px">91.00K</div><div class="yl" style="top:256.6px">90.00K</div><div class="yl" style="top:292.6px">89.00K</div>
<div class="tl" style="left:11.5px;width:auto;text-align:left">8:00 ...</div>
<div class="tl" style="left:50.5px">10:00 AM</div><div class="tl" style="left:133.0px">12:00 PM</div><div class="tl" style="left:215.5px">2:00 PM</div><div class="tl" style="left:298.0px">4:00 PM</div><div class="tl" style="left:380.5px">6:00 PM</div><div class="tl" style="left:463.0px">8:00 PM</div><div class="tl" style="left:545.5px">10:00 PM</div><div class="tl" style="left:628.0px">18 Nov</div><div class="tl" style="left:710.5px">2:00 AM</div><div class="tl" style="left:793.0px">4:00 AM</div><div class="tl" style="left:875.5px">6:00 AM</div><div class="tl" style="left:958.0px">8:00 AM</div>
<div class="yr" style="left:73.5px">2012</div><div class="yr" style="left:203.5px">2014</div><div class="yr" style="left:333.5px">2016</div><div class="yr" style="left:463.5px">2018</div><div class="yr" style="left:593.5px">2020</div><div class="yr" style="left:723.5px">2022</div><div class="yr" style="left:853.5px">2024</div>
<div class="open">95.67K</div>
<div class="cur">90.67K</div>
<div class="usd">USD</div>
<div class="b125">125</div>
<div class="an">Analyze</div>
<div class="wm">CoinMarketCap</div>
</body></html>
